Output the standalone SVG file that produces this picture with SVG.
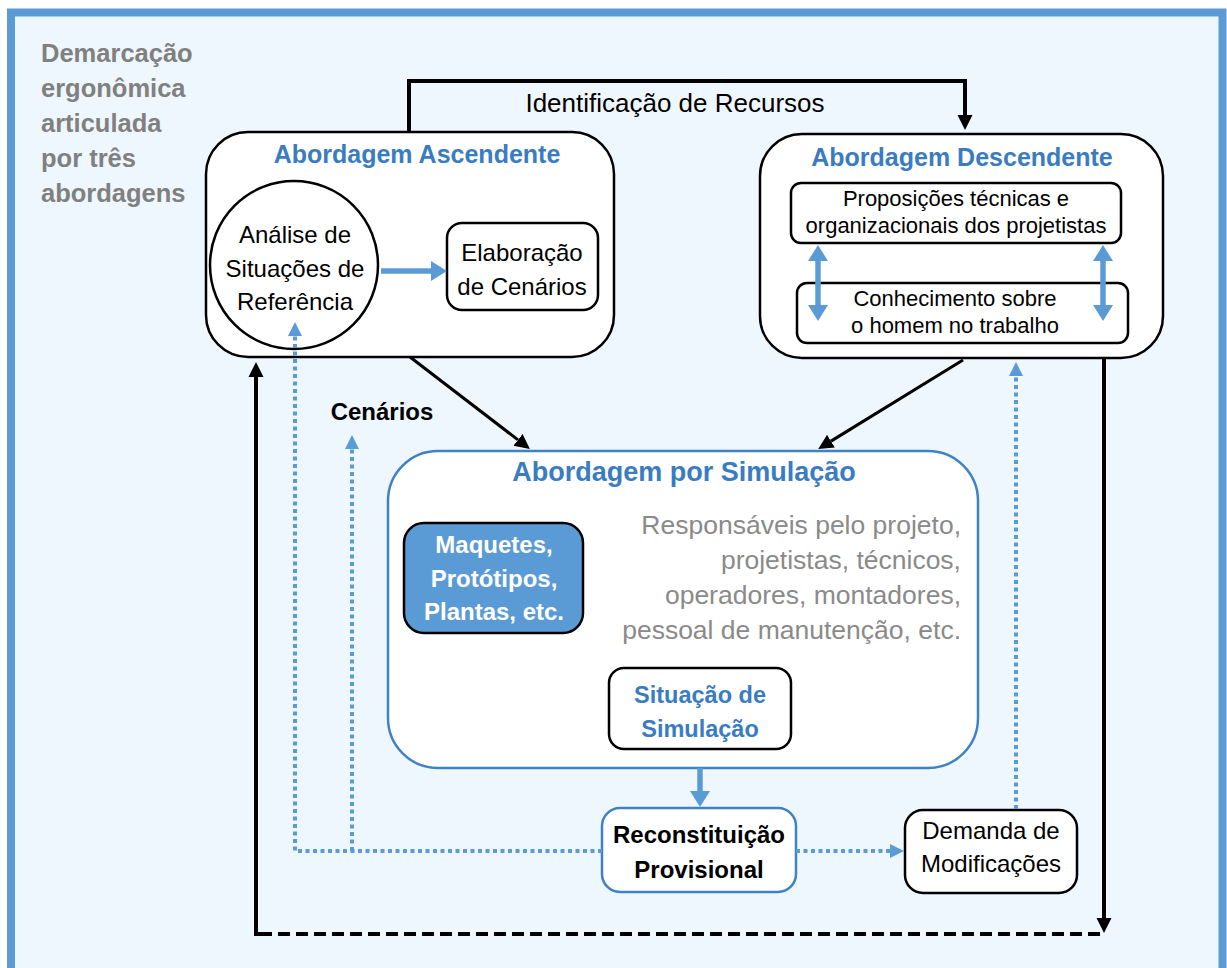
<svg xmlns="http://www.w3.org/2000/svg" width="1227" height="968" viewBox="0 0 1227 968">
  <style>
    text { font-family: "Liberation Sans", Arial, sans-serif; }
    .title { font-weight: bold; fill: #3A7CC2; text-anchor: middle; }
    .body { fill: #000; font-size: 24px; text-anchor: middle; }
    .small { fill: #000; font-size: 22px; text-anchor: middle; }
    .side { fill: #808080; font-weight: bold; font-size: 25.5px; }
    .people { fill: #8A8A8A; font-size: 26.5px; text-anchor: end; }
    .box { fill: #fff; stroke: #000; stroke-width: 2.5; }
    .bluebox { fill: #fff; stroke: #3F82C4; stroke-width: 2.5; }
    .link { fill: none; stroke: #000; stroke-width: 4; }
    .diag { fill: none; stroke: #000; stroke-width: 3; }
    .dash { fill: none; stroke: #000; stroke-width: 4; stroke-dasharray: 12 6; }
    .flow { fill: none; stroke: #5B9BD5; stroke-width: 5.5; }
    .dots { fill: none; stroke: #5B9BD5; stroke-width: 4; stroke-dasharray: 4 3.5; }
  </style>
  <defs>
    <marker id="headBlack" markerUnits="userSpaceOnUse" markerWidth="17" markerHeight="17" refX="0" refY="8.5" orient="auto">
      <path d="M0,1 L15,8.5 L0,16 z" fill="#000"/>
    </marker>
    <marker id="headBlue" markerUnits="userSpaceOnUse" markerWidth="18" markerHeight="22" refX="0" refY="11" orient="auto-start-reverse">
      <path d="M0,1 L16,11 L0,21 z" fill="#5B9BD5"/>
    </marker>
    <marker id="headDot" markerUnits="userSpaceOnUse" markerWidth="16" markerHeight="16" refX="0" refY="8" orient="auto">
      <path d="M0,1 L14,8 L0,15 z" fill="#5B9BD5"/>
    </marker>
  </defs>

  <!-- page frame -->
  <rect x="0" y="0" width="1227" height="968" fill="#fff"/>
  <rect x="11" y="12.5" width="1211.5" height="1000" fill="#EFF7FE" stroke="#5B9BD5" stroke-width="8"/>

  <!-- side heading -->
  <g id="side-label">
    <text class="side" x="41" y="62">Demarcação</text>
    <text class="side" x="41" y="97">ergonômica</text>
    <text class="side" x="41" y="132">articulada</text>
    <text class="side" x="41" y="167">por três</text>
    <text class="side" x="41" y="202">abordagens</text>
  </g>

  <!-- ascending approach -->
  <g id="ascendente">
    <rect class="box" x="206" y="132" width="408" height="225" rx="42"/>
    <text class="title" x="417" y="163" font-size="25">Abordagem Ascendente</text>
  </g>
  <g id="analise">
    <circle cx="294" cy="265" r="84" fill="#fff" stroke="#000" stroke-width="2.5"/>
    <text class="body" x="295" y="243" font-size="24.5">Análise de</text>
    <text class="body" x="295" y="277" font-size="24.5">Situações de</text>
    <text class="body" x="295" y="310" font-size="24.5">Referência</text>
  </g>
  <g id="elaboracao">
    <rect class="box" x="447" y="223" width="151" height="87" rx="15"/>
    <text class="body" x="522" y="261">Elaboração</text>
    <text class="body" x="522" y="295">de Cenários</text>
  </g>

  <!-- descending approach -->
  <g id="descendente">
    <rect class="box" x="760" y="134" width="403" height="224" rx="42"/>
    <text class="title" x="962" y="166" font-size="25">Abordagem Descendente</text>
  </g>
  <g id="proposicoes">
    <rect class="box" x="791" y="183" width="330" height="60" rx="10" stroke-width="2"/>
    <text class="small" x="956" y="206">Proposições técnicas e</text>
    <text class="small" x="956" y="233">organizacionais dos projetistas</text>
  </g>
  <g id="conhecimento">
    <rect class="box" x="797" y="283" width="331" height="60" rx="10" stroke-width="2"/>
    <text class="small" x="955" y="306">Conhecimento sobre</text>
    <text class="small" x="955" y="333">o homem no trabalho</text>
  </g>

  <!-- simulation approach -->
  <g id="simulacao">
    <rect class="bluebox" x="388" y="451" width="590" height="317" rx="50"/>
    <text class="title" x="684" y="481" font-size="27">Abordagem por Simulação</text>
    <text class="people" x="961" y="534">Responsáveis pelo projeto,</text>
    <text class="people" x="961" y="569">projetistas, técnicos,</text>
    <text class="people" x="961" y="604">operadores, montadores,</text>
    <text class="people" x="961" y="639">pessoal de manutenção, etc.</text>
  </g>
  <g id="maquetes">
    <rect x="404" y="523" width="179" height="110" rx="20" fill="#5B9BD5" stroke="#000" stroke-width="2.5"/>
    <text x="494" y="553" font-size="24" font-weight="bold" fill="#fff" text-anchor="middle">Maquetes,</text>
    <text x="494" y="587" font-size="24" font-weight="bold" fill="#fff" text-anchor="middle">Protótipos,</text>
    <text x="494" y="620" font-size="24" font-weight="bold" fill="#fff" text-anchor="middle">Plantas, etc.</text>
  </g>
  <g id="situacao">
    <rect class="box" x="609" y="668" width="182" height="81" rx="15"/>
    <text class="title" x="700" y="703" font-size="23.5">Situação de</text>
    <text class="title" x="700" y="737" font-size="23.5">Simulação</text>
  </g>

  <!-- provisional reconstruction -->
  <g id="reconstituicao">
    <rect class="bluebox" x="602" y="808" width="194" height="84" rx="18"/>
    <text x="699" y="843" font-size="24" font-weight="bold" text-anchor="middle" fill="#000">Reconstituição</text>
    <text x="699" y="878" font-size="24" font-weight="bold" text-anchor="middle" fill="#000">Provisional</text>
  </g>
  <g id="demanda">
    <rect class="box" x="905" y="810" width="172" height="83" rx="18"/>
    <text class="body" x="991" y="839">Demanda de</text>
    <text class="body" x="991" y="872">Modificações</text>
  </g>

  <!-- connectors, drawn over the boxes -->
  <g id="connectors">
    <!-- Identificação de Recursos -->
    <path class="link" d="M409,133 V81 H965 V115" marker-end="url(#headBlack)"/>
    <!-- diagonals into simulation -->
    <path class="diag" d="M410,357 L518,439.9" marker-end="url(#headBlack)"/>
    <path class="diag" d="M963,360 L831,441.1" marker-end="url(#headBlack)"/>
    <!-- outer loop -->
    <path class="link" d="M1104,358 V918" marker-end="url(#headBlack)"/>
    <path class="dash" d="M1100,934 H262"/>
    <path class="link" d="M268,934 H256 V377" marker-end="url(#headBlack)"/>
    <!-- blue solid arrows -->
    <path class="flow" d="M381,271 H431" marker-end="url(#headBlue)"/>
    <path class="flow" d="M818,261 V305" marker-start="url(#headBlue)" marker-end="url(#headBlue)"/>
    <path class="flow" d="M1103,261 V305" marker-start="url(#headBlue)" marker-end="url(#headBlue)"/>
    <path class="flow" d="M700,768 V791" marker-end="url(#headBlue)"/>
    <!-- blue dotted feedback -->
    <path class="dots" d="M796,851 H890" marker-end="url(#headDot)"/>
    <path class="dots" d="M602,851 H295 V336" marker-end="url(#headDot)"/>
    <path class="dots" d="M352,851 V449" marker-end="url(#headDot)"/>
    <path class="dots" d="M1016,809 V376" marker-end="url(#headDot)"/>
  </g>

  <text x="675" y="112" font-size="26" text-anchor="middle" fill="#000">Identificação de Recursos</text>
  <text x="382" y="420" font-size="24" font-weight="bold" text-anchor="middle" fill="#000">Cenários</text>
</svg>
